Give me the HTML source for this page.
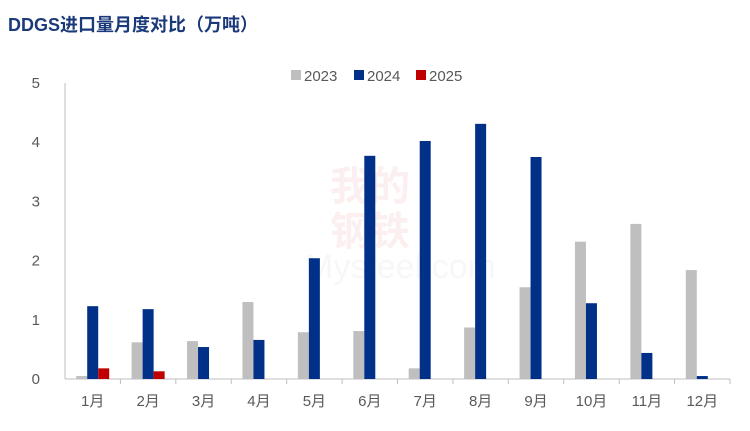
<!DOCTYPE html>
<html><head><meta charset="utf-8">
<style>
body{margin:0;background:#fff;}
svg text{font-family:"Liberation Sans","Noto Sans CJK SC",sans-serif;}
</style></head>
<body>
<svg width="750" height="426" viewBox="0 0 750 426" xmlns="http://www.w3.org/2000/svg">
<text x="8" y="31" font-size="18" font-weight="bold" fill="#1b3a7a">DDGS进口量月度对比（万吨）</text>
<g opacity="0.06">
<text x="330" y="200" font-size="40" fill="#c00000" font-weight="bold">我的</text>
<text x="330" y="245" font-size="40" fill="#c00000" font-weight="bold">钢铁</text>
<text x="305" y="278" font-size="34" fill="#888">Mysteel.com</text>
</g>
<g id="axes"></g>
<g id="bars"></g>
<g>
<rect x="291" y="70" width="10" height="10" fill="#bfbfbf"/><text x="304" y="81" font-size="15" fill="#595959">2023</text>
<rect x="354" y="70" width="10" height="10" fill="#003087"/><text x="367" y="81" font-size="15" fill="#595959">2024</text>
<rect x="416" y="70" width="10" height="10" fill="#c00000"/><text x="429" y="81" font-size="15" fill="#595959">2025</text>
</g>
</svg>
<script>
const categories=["1月","2月","3月","4月","5月","6月","7月","8月","9月","10月","11月","12月"];
const s2023=[0.05,0.62,0.64,1.30,0.79,0.81,0.18,0.87,1.55,2.32,2.62,1.84];
const s2024=[1.23,1.18,0.54,0.66,2.04,3.77,4.02,4.31,3.75,1.28,0.44,0.05];
const s2025=[0.18,0.13];
const yTicks=[0,1,2,3,4,5];
const NS="http://www.w3.org/2000/svg";
const x0=65,x1=730,yb=379,yt=83;
const step=(x1-x0)/categories.length;
const y=v=>yb-(v/5)*(yb-yt);
const xc=i=>x0+step*(i+0.5);
function mk(t,a,p){const e=document.createElementNS(NS,t);for(const k in a)e.setAttribute(k,a[k]);p.appendChild(e);return e;}
const ax=document.getElementById('axes'),bars=document.getElementById('bars');
yTicks.forEach(v=>{const t=mk('text',{x:40,y:y(v)+5,'font-size':15,fill:'#595959','text-anchor':'end'},ax);t.textContent=v;

});
const yl=mk('line',{x1:x0,y1:yt,x2:x0,y2:yb,stroke:'#bfbfbf'},ax);


const xl=mk('line',{x1:x0,y1:yb,x2:x1,y2:yb,stroke:'#bfbfbf'},ax);


categories.forEach((c,i)=>{
const tk=mk('line',{x1:x0+step*(i+1),y1:yb,x2:x0+step*(i+1),y2:yb+5,stroke:'#bfbfbf'},ax);


const t=mk('text',{x:xc(i),y:yb+27,'font-size':15,fill:'#595959','text-anchor':'middle'},ax);t.textContent=c;

});
const bw=11;
[[s2023,'#bfbfbf',-1,'bar-2023'],[s2024,'#003087',0,'bar-2024'],[s2025,'#c00000',1,'bar-2025']].forEach(([s,col,off,name])=>{
s.forEach((v,i)=>{const r=mk('rect',{x:xc(i)+off*bw-bw/2,y:y(v),width:bw,height:yb-y(v),fill:col},bars);

});});
</script>
</body></html>
